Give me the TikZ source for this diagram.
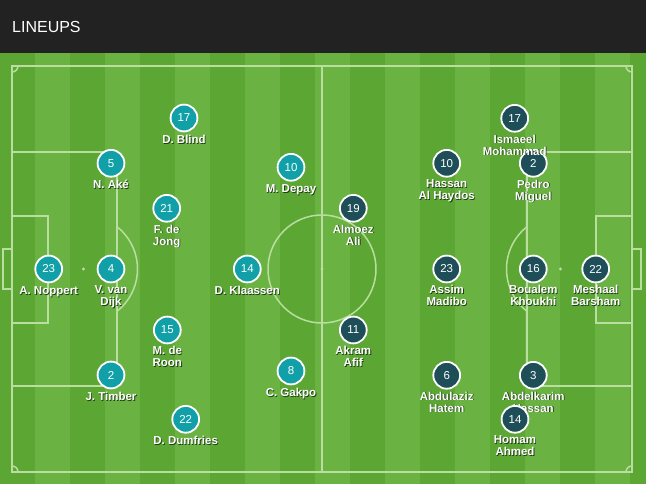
\documentclass[tikz,border=0pt]{standalone}
\usepackage{fontspec}
\setmainfont{Liberation Sans}
\usetikzlibrary{positioning}

\definecolor{headbg}{RGB}{34,34,34}
\definecolor{grassdark}{RGB}{92,166,51}
\definecolor{grasslight}{RGB}{106,179,66}
\definecolor{pline}{RGB}{185,222,160}
\definecolor{nlteal}{RGB}{18,160,168}
\definecolor{qadark}{RGB}{30,78,88}
\definecolor{txtshadow}{RGB}{35,60,25}

\newcommand\sh[1]{\leavevmode\rlap{\hspace{0.8pt}\raisebox{-0.8pt}{\color{txtshadow}#1}}#1}

\tikzset{
  pitchline/.style={draw=pline, line width=1.5pt},
  player/.style={circle, draw=white, line width=1.8pt, minimum size=26.8pt, inner sep=0pt,
    text=white, font=\fontsize{11.5}{12}\selectfont},
  nl/.style={player, fill=nlteal},
  qa/.style={player, fill=qadark},
  pname/.style={inner sep=0pt, outer sep=0pt, text=white, align=center,
    font=\fontsize{11.5}{12}\selectfont\bfseries, execute at begin node={\rule{0pt}{9pt}}},
}

\begin{document}
\begin{tikzpicture}[x=1pt,y=-1pt]
\useasboundingbox (0,0) rectangle (646,484);
\fill[headbg] (0,0) rectangle (646,53);
\node[anchor=base west, inner sep=0pt, text=white, font=\fontsize{16}{19}\selectfont] (title) at (12,32.3) {LINEUPS};

% grass
\fill[grassdark] (0,53) rectangle (646,484);
\foreach \i in {1,3,...,17}
  \fill[grasslight] (35*\i,53) rectangle ++(35,431);

% pitch
\draw[pitchline] (12,66) rectangle (632,472);
\draw[pitchline] (322,66) -- (322,472);
\draw[pitchline] (322,269) circle[radius=54];
\draw[pitchline] (12,152) rectangle (117,386);
\draw[pitchline] (632,152) rectangle (527,386);
\draw[pitchline] (12,216) rectangle (48,323);
\draw[pitchline] (632,216) rectangle (596,323);
\draw[pitchline] (12,249) rectangle (3,289);
\draw[pitchline] (632,249) rectangle (641,289);
\fill[pline] (322,269) circle[radius=1.6];
\fill[pline] (83.5,269) circle[radius=1.6];
\fill[pline] (560.5,269) circle[radius=1.6];
\begin{scope}
  \clip (117,150) rectangle (200,390);
  \draw[pitchline] (83.5,269) circle[radius=54];
\end{scope}
\begin{scope}
  \clip (440,150) rectangle (527,390);
  \draw[pitchline] (560.5,269) circle[radius=54];
\end{scope}
\begin{scope}
  \clip (12,66) rectangle (632,472);
  \draw[pitchline] (12,66) circle[radius=6];
  \draw[pitchline] (632,66) circle[radius=6];
  \draw[pitchline] (12,472) circle[radius=6];
  \draw[pitchline] (632,472) circle[radius=6];
\end{scope}

% Netherlands
\node[nl] (blind) at (184,118) {17};
\node[pname, below=2.2pt of blind] (blindname) {\sh{D. Blind}};
\node[nl] (ake) at (111,163.3) {5};
\node[pname, below=2.2pt of ake] (akename) {\sh{N. Aké}};
\node[nl] (dejong) at (166.7,208.3) {21};
\node[pname, below=2.2pt of dejong] (dejongname) {\sh{F. de}\\\sh{Jong}};
\node[nl] (noppert) at (48.7,269) {23};
\node[pname, below=2.2pt of noppert] (noppertname) {\sh{A. Noppert}};
\node[nl] (vandijk) at (111,269) {4};
\node[pname, below=2.2pt of vandijk] (vandijkname) {\sh{V. van}\\\sh{Dijk}};
\node[nl] (deroon) at (167.3,330) {15};
\node[pname, below=2.2pt of deroon] (deroonname) {\sh{M. de}\\\sh{Roon}};
\node[nl] (timber) at (111,375) {2};
\node[pname, below=2.2pt of timber] (timbername) {\sh{J. Timber}};
\node[nl] (dumfries) at (185.7,419.3) {22};
\node[pname, below=2.2pt of dumfries] (dumfriesname) {\sh{D. Dumfries}};
\node[nl] (depay) at (291,167.3) {10};
\node[pname, below=2.2pt of depay] (depayname) {\sh{M. Depay}};
\node[nl] (klaassen) at (247.3,269) {14};
\node[pname, below=2.2pt of klaassen] (klaassenname) {\sh{D. Klaassen}};
\node[nl] (gakpo) at (291,371) {8};
\node[pname, below=2.2pt of gakpo] (gakponame) {\sh{C. Gakpo}};

% Qatar
\node[qa] (ali) at (353.3,208.3) {19};
\node[pname, below=2.2pt of ali] (aliname) {\sh{Almoez}\\\sh{Ali}};
\node[qa] (afif) at (353.3,330) {11};
\node[pname, below=2.2pt of afif] (afifname) {\sh{Akram}\\\sh{Afif}};
\node[qa] (haydos) at (446.7,163.3) {10};
\node[pname, below=2.2pt of haydos] (haydosname) {\sh{Hassan}\\\sh{Al Haydos}};
\node[qa] (madibo) at (446.7,269) {23};
\node[pname, below=2.2pt of madibo] (madiboname) {\sh{Assim}\\\sh{Madibo}};
\node[qa] (hatem) at (446.7,375.3) {6};
\node[pname, below=2.2pt of hatem] (hatemname) {\sh{Abdulaziz}\\\sh{Hatem}};
\node[qa] (miguel) at (533.3,163.3) {2};
\node[pname, below=2.2pt of miguel] (miguelname) {\sh{Pedro}\\\sh{Miguel}};
\node[qa] (ismaeel) at (514.7,118.3) {17};
\node[pname, below=2.2pt of ismaeel] (ismaeelname) {\sh{Ismaeel}\\\sh{Mohammad}};
\node[qa] (khoukhi) at (533.3,269) {16};
\node[pname, below=2.2pt of khoukhi] (khoukhiname) {\sh{Boualem}\\\sh{Khoukhi}};
\node[qa] (barsham) at (595.7,269) {22};
\node[pname, below=2.2pt of barsham] (barshamname) {\sh{Meshaal}\\\sh{Barsham}};
\node[qa] (hassan) at (533.3,375.3) {3};
\node[pname, below=2.2pt of hassan] (hassanname) {\sh{Abdelkarim}\\\sh{Hassan}};
\node[qa] (ahmed) at (515,419.3) {14};
\node[pname, below=2.2pt of ahmed] (ahmedname) {\sh{Homam}\\\sh{Ahmed}};
\end{tikzpicture}
\end{document}
